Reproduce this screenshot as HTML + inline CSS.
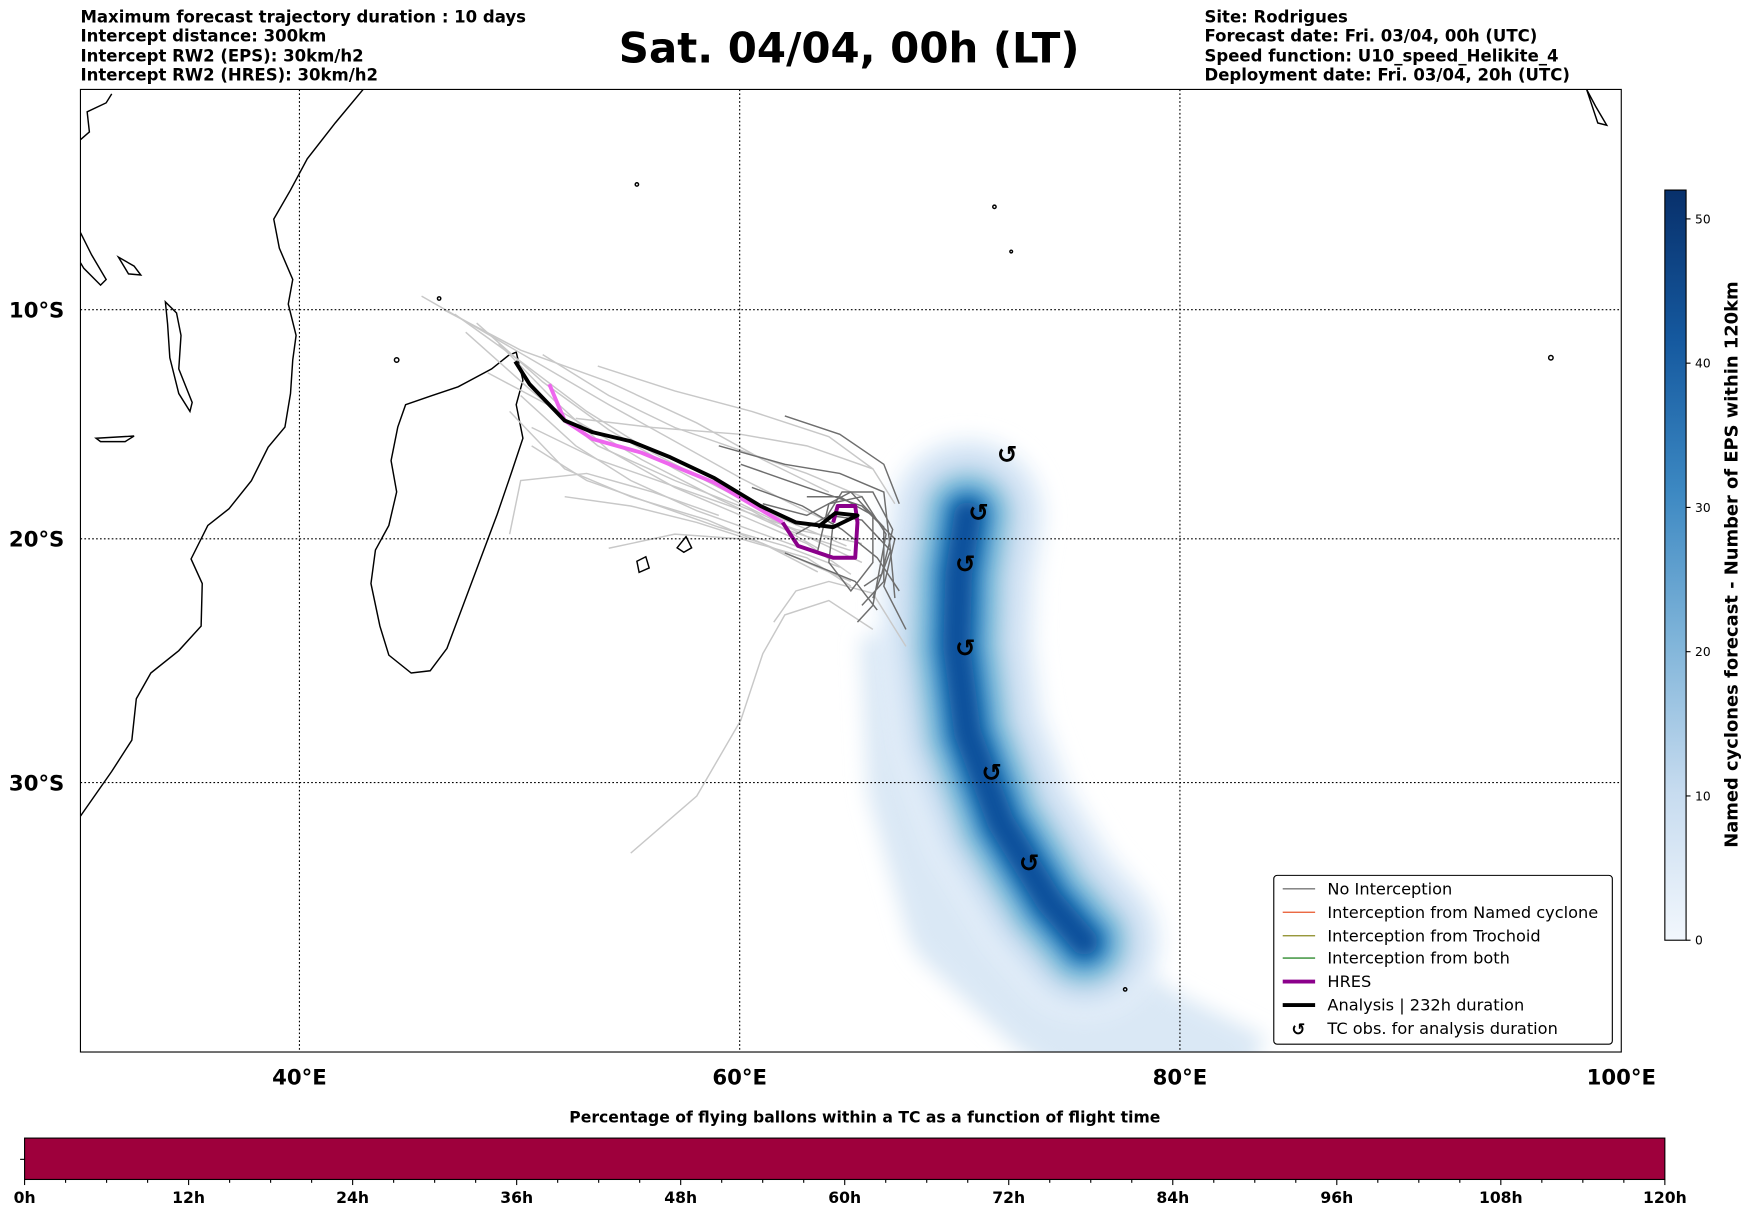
<!DOCTYPE html>
<html><head><meta charset="utf-8"><style>
html,body{margin:0;padding:0;background:#fff}
svg{display:block}
text{font-family:"DejaVu Sans","Liberation Sans",sans-serif}
</style></head><body>
<svg id="fig" width="1752" height="1213" viewBox="0 0 1568 1085" preserveAspectRatio="none" xmlns="http://www.w3.org/2000/svg">
<defs>
<filter id="blur" filterUnits="userSpaceOnUse" x="0" y="0" width="1568" height="1085"><feGaussianBlur stdDeviation="9"/></filter>
<filter id="blur2" filterUnits="userSpaceOnUse" x="0" y="0" width="1568" height="1085"><feGaussianBlur stdDeviation="6"/></filter>
<linearGradient id="blues" x1="0" y1="1" x2="0" y2="0">
<stop offset="0" stop-color="#f2f7fd"/><stop offset="0.2" stop-color="#c6dbef"/><stop offset="0.4" stop-color="#7fb4d9"/><stop offset="0.6" stop-color="#3c88c2"/><stop offset="0.8" stop-color="#15599f"/><stop offset="1" stop-color="#08306b"/>
</linearGradient>
<clipPath id="mapclip"><rect x="72" y="80" width="1379" height="861"/></clipPath>
</defs>
<g font-size="14.8" font-weight="bold">
<text x="72" y="20">Maximum forecast trajectory duration : 10 days</text>
<text x="72" y="37">Intercept distance: 300km</text>
<text x="72" y="55">Intercept RW2 (EPS):  30km/h2</text>
<text x="72" y="72">Intercept RW2 (HRES): 30km/h2</text>
</g>
<text x="760" y="56" font-size="37.5" font-weight="bold" text-anchor="middle">Sat. 04/04, 00h (LT)</text>
<g font-size="14.8" font-weight="bold">
<text x="1078" y="20">Site: Rodrigues</text>
<text x="1078" y="37">Forecast date: Fri. 03/04, 00h (UTC)</text>
<text x="1078" y="55">Speed function: U10_speed_Helikite_4</text>
<text x="1078" y="72">Deployment date: Fri. 03/04, 20h (UTC)</text>
</g>
<g id="map" clip-path="url(#mapclip)">
<g id="density"></g>
<g id="coast" fill="none" stroke="#000" stroke-width="1.3">
<path d="M72,730 L100,690 L118,662 L122,625 L135,602 L160,582 L180,560 L181,522 L171,500 L186,470 L205,455 L225,430 L240,400 L255,382 L260,352 L262,322 L265,300 L258,272 L262,250 L250,222 L245,196 L260,170 L275,142 L300,110 L325,80"/>
<path d="M72,125 L80,118 L78,100 L95,92 L100,84"/>
<path d="M72,208 L82,228 L95,250 L90,255 L75,240 L72,235"/>
<path d="M462,315 L468,340 L462,362 L468,392 L458,422 L445,460 L430,500 L415,540 L400,580 L385,600 L368,602 L348,586 L340,560 L332,522 L336,492 L348,470 L355,440 L350,412 L356,382 L363,362 L386,354 L410,346 L440,330 L455,318 Z"/>
<path d="M606,490 L614,480 L619,490 L612,494 Z"/>
<path d="M570,502 L578,498 L581,508 L572,512 Z"/>
<path d="M86,392 L120,390 L112,395 L90,395 Z"/>
<path d="M148,270 L158,280 L162,300 L160,330 L172,360 L170,368 L160,352 L152,320 L150,290 Z"/>
<path d="M106,230 L120,238 L126,246 L115,245 Z"/>
<circle cx="1388" cy="320" r="2"/><circle cx="905" cy="225" r="1.2"/><circle cx="890" cy="185" r="1.5"/><circle cx="570" cy="165" r="1.5"/><circle cx="355" cy="322" r="2"/><circle cx="393" cy="267" r="1.5"/><circle cx="1007" cy="885" r="1.5"/>
<path d="M1420,80 L1428,95 L1438,112 L1430,110 Z"/>
</g>
<g id="ens"></g>
<g id="tracks"></g>
<g id="tcobs"></g>
</g>
<g stroke="#000" stroke-width="1" stroke-dasharray="1.5,2">
<line x1="268" y1="80" x2="268" y2="941"/><line x1="662" y1="80" x2="662" y2="941"/><line x1="1056" y1="80" x2="1056" y2="941"/>
<line x1="72" y1="277" x2="1451" y2="277"/><line x1="72" y1="482" x2="1451" y2="482"/><line x1="72" y1="700" x2="1451" y2="700"/>
</g>
<rect x="72" y="80" width="1379" height="861" fill="none" stroke="#000" stroke-width="1"/>
<g font-size="19" font-weight="bold">
<text x="8" y="284">10°S</text><text x="8" y="489">20°S</text><text x="8" y="707">30°S</text>
</g>
<g font-size="19" font-weight="bold" text-anchor="middle">
<text x="268" y="970">40°E</text><text x="662" y="970">60°E</text><text x="1056" y="970">80°E</text><text x="1451" y="970">100°E</text>
</g>
<g>
<rect x="1140" y="783" width="303" height="151" rx="3" fill="#fff" stroke="#000" stroke-width="1"/>
<g font-size="14.5">
<line x1="1148" y1="795" x2="1177" y2="795" stroke="#777" stroke-width="1.2"/><text x="1188" y="800">No Interception</text>
<line x1="1148" y1="816" x2="1177" y2="816" stroke="#e8552a" stroke-width="1.2"/><text x="1188" y="821">Interception from Named cyclone</text>
<line x1="1148" y1="837" x2="1177" y2="837" stroke="#8a8a20" stroke-width="1.2"/><text x="1188" y="842">Interception from Trochoid</text>
<line x1="1148" y1="857" x2="1177" y2="857" stroke="#2e8b2e" stroke-width="1.2"/><text x="1188" y="862">Interception from both</text>
<line x1="1148" y1="878" x2="1177" y2="878" stroke="#8b008b" stroke-width="3.5"/><text x="1188" y="883">HRES</text>
<line x1="1148" y1="899" x2="1177" y2="899" stroke="#000" stroke-width="3.5"/><text x="1188" y="904">Analysis | 232h duration</text>
<text x="1162" y="926" font-size="15" font-weight="bold" text-anchor="middle">↺</text><text x="1188" y="925">TC obs. for analysis duration</text>
</g>
</g>
<g id="cbar">
<rect x="1490" y="170" width="19" height="671" fill="url(#blues)" stroke="#000" stroke-width="1"/>
</g>
<text transform="translate(1555,505) rotate(-90)" font-size="16" font-weight="bold" text-anchor="middle">Named cyclones forecast - Number of EPS within 120km</text>
<text x="774" y="1004" font-size="14" font-weight="bold" text-anchor="middle">Percentage of flying ballons within a TC as a function of flight time</text>
<rect x="22" y="1018" width="1468" height="37" fill="#9e003c" stroke="#000" stroke-width="1"/>
<line x1="18" y1="1037" x2="22" y2="1037" stroke="#000"/>
<g id="tticks"></g>
</svg>
<script>
// ---- data ----
const analysisLon = [49.75,50.4,51.2,52.0,53.25,55.0,56.8,58.8,60.9,62.5,64.2,65.3,64.3,63.5];
const analysisLat = [12.3,13.3,14.1,14.9,15.4,15.8,16.5,17.4,18.6,19.3,19.5,19.0,18.9,19.5];
const hresLon = [51.3,52.0,53.25,55.5,58.8,61.9,62.6,64.2,65.2,65.3,65.2,64.4,64.2];
const hresLat = [13.3,14.9,15.7,16.3,17.6,19.3,20.3,20.8,20.8,19.3,18.6,18.6,19.3];
const hresMagentaCount = 6;
const tcLon = [72.1,70.8,70.2,70.2,71.4,73.1];
const tcLat = [16.4,18.9,21.1,24.6,29.6,33.1];
const densLon = [70.3,69.9,69.8,70.3,71.8,74.0,75.6];
const densLat = [19.0,21.5,24.5,28.0,31.5,34.5,36.0];
const densTailLon = [68.5,68.8,70.5,74.5,78.5,82.5];
const densTailLat = [24.0,30.0,35.0,38.0,40.0,41.5];
const lightTracks = [
 [[45.5,9.4],[48,10.8],[51,12.5],[54,14.2],[57,15.8],[60,17.4],[62.5,18.6],[64.5,19.5]],
 [[47,10.2],[50,12.3],[53,14.5],[56,16.3],[59,17.8],[62,19.2],[64.8,20.3]],
 [[48,10.6],[51,13.2],[54,15.3],[57,17.0],[60,18.5],[63,19.9],[65.5,21.0]],
 [[49,11.5],[51.5,14.0],[54,16.2],[57,17.8],[60,19.0],[63,20.2],[65,21.5]],
 [[50,13.8],[52.5,16.0],[55,17.5],[58,18.8],[61,19.8],[64,20.8]],
 [[50.5,16.0],[53,17.5],[56,18.5],[59,19.5],[62,20.3],[64.5,21.2]],
 [[52,18.2],[55,18.6],[58,19.3],[61,20.2],[63.5,21.4]],
 [[52.5,14.8],[56,15.2],[60,15.5],[63,16.0],[66,17.0],[67,18.5]],
 [[53.5,12.5],[57,13.6],[60.5,14.5],[64,15.6],[66,17.0]],
 [[49.5,19.8],[50,17.5],[53,17.2],[56,18.0],[59,19.0]],
 [[55,32.7],[58,30.5],[60,27.5],[61,24.8],[62,23.2],[64,22.6],[66,23.8]],
 [[61.5,23.5],[62.5,22.2],[64,21.8],[66,22.3],[67.5,24.5]],
 [[46.5,10.0],[50,11.8],[54,13.2],[58,15.0],[61,16.6],[64,18.0]],
 [[48.5,12.8],[52,14.6],[55.5,16.6],[59,18.3],[62,19.6],[65,20.5]],
 [[47.5,11.0],[50.5,13.6],[53.5,16.0],[57,17.5],[60.5,18.8],[63.5,20.4]],
 [[49.5,14.5],[52,17.0],[55,18.2],[58.5,19.2],[62,20.6],[65,21.8]],
 [[51,12.0],[54,13.8],[57,15.2],[60,16.2],[63,17.2],[65.5,18.2]],
 [[50.5,15.2],[53.5,16.6],[56.5,17.6],[59.5,18.6],[62.5,19.6],[65.5,20.2]],
 [[54,20.4],[57,19.8],[60,20.0],[63,20.8],[65,22.0]]
];
const darkTracks = [
 [[60,16.8],[63,17.8],[65.5,18.6],[67,20.0],[66.5,22.0],[67.5,23.8]],
 [[59,16.0],[62,16.8],[64.5,17.2],[66.5,18.0],[66.8,20.5],[66,22.5]],
 [[62,14.7],[64.5,15.5],[66.5,16.8],[67.2,18.5]],
 [[63,18.2],[64.5,18.2],[66,19.0],[66,21.0],[65,22.2],[64,21.0],[64.2,19.3]],
 [[61,18.5],[63,19.0],[65,18.0],[66.5,19.5],[66.5,21.8],[65.5,22.8]],
 [[62.5,19.8],[64,19.0],[65.5,19.2],[66.8,20.5],[67,22.5]],
 [[63.5,20.5],[64,18.5],[65.5,18.2],[66.6,19.8],[66,22.8],[65.3,23.5]],
 [[63.8,19.2],[64.6,18.0],[66,18.0],[66.9,19.6],[66.4,21.5],[65.6,22.0]],
 [[62,20.6],[63.6,21.2],[65.2,21.8],[66.2,23.0]],
 [[60.5,17.8],[62.8,18.6],[64.6,19.6],[66.2,20.8],[67.2,22.2]]
];
const cbTicks = [0,10,20,30,40,50];
const cbMax = 52;
const timeLabels = ['0h','12h','24h','36h','48h','60h','72h','84h','96h','108h','120h'];
const timeMax = 120, timeMinorStep = 3;
// ---- axes ----
const NS='http://www.w3.org/2000/svg';
function xLon(lon){return 72+(lon-30)*19.7;}
function yLat(lat){const r=Math.abs(lat)*Math.PI/180;return 78.2+1133*Math.log(Math.tan(Math.PI/4+r/2));}
function mk(tag,attrs,parent){const e=document.createElementNS(NS,tag);for(const k in attrs)e.setAttribute(k,attrs[k]);parent.appendChild(e);return e;}
function pathLL(lons,lats){return lons.map((l,i)=>(i?'L':'M')+xLon(l).toFixed(1)+','+yLat(lats[i]).toFixed(1)).join(' ');}
// density
const dens=document.getElementById('density');
const tail=mk('path',{d:pathLL(densTailLon,densTailLat),fill:'none',stroke:'#dae8f5','stroke-width':120,'stroke-linejoin':'round',filter:'url(#blur)'},dens);


const layers=[[140,'#e3eef9','blur'],[108,'#c6dbef','blur'],[80,'#9ecae1','blur2'],[60,'#6baed6','blur2'],[42,'#3182bd','blur2'],[24,'#08519c','blur2']];
const dPath=pathLL(densLon,densLat);
layers.forEach(([w,c,f])=>{
 const p=mk('path',{d:dPath,fill:'none',stroke:c,'stroke-width':w,'stroke-linecap':'round','stroke-linejoin':'round',filter:'url(#'+f+')'},dens);
 
 
});
// ensemble
const ens=document.getElementById('ens');
lightTracks.forEach(t=>{
 const p=mk('path',{d:pathLL(t.map(a=>a[0]),t.map(a=>a[1])),fill:'none',stroke:'#c8c8c8','stroke-width':1.3},ens);
 
 
});
darkTracks.forEach(t=>{
 const p=mk('path',{d:pathLL(t.map(a=>a[0]),t.map(a=>a[1])),fill:'none',stroke:'#6e6e6e','stroke-width':1.3},ens);
 
 
});
// tracks
const tr=document.getElementById('tracks');
const hm=mk('path',{d:pathLL(hresLon.slice(0,hresMagentaCount),hresLat.slice(0,hresMagentaCount)),fill:'none',stroke:'#ee66ee','stroke-width':3.5,'stroke-linejoin':'round'},tr);


const hp=mk('path',{d:pathLL(hresLon.slice(hresMagentaCount-1),hresLat.slice(hresMagentaCount-1)),fill:'none',stroke:'#8b008b','stroke-width':3.5,'stroke-linejoin':'round'},tr);


const an=mk('path',{d:pathLL(analysisLon,analysisLat),fill:'none',stroke:'#000','stroke-width':3.5,'stroke-linejoin':'round'},tr);


// tc obs
const tc=document.getElementById('tcobs');
tcLon.forEach((l,i)=>{
 const t=mk('text',{x:xLon(l),y:yLat(tcLat[i])+7,'font-size':22,'font-weight':'bold','text-anchor':'middle'},tc);
 t.textContent='↺';
 
 
});
// colorbar ticks
const cb=document.getElementById('cbar');
cbTicks.forEach(v=>{
 const y=841-v/cbMax*671;
 mk('line',{x1:1509,y1:y,x2:1513,y2:y,stroke:'#000'},cb);
 const t=mk('text',{x:1517,y:y+4,'font-size':11},cb);
 t.textContent=v;
 
 
});
// time ticks
const tt=document.getElementById('tticks');
function xT(h){return 22+h/timeMax*1468;}
for(let h=0;h<=timeMax;h+=timeMinorStep){
 const major=h%12===0;
 mk('line',{x1:xT(h),y1:1055,x2:xT(h),y2:major?1060:1058,stroke:'#000'},tt);
}
timeLabels.forEach((s,i)=>{
 const t=mk('text',{x:xT(i*12),y:1076,'font-size':14,'font-weight':'bold','text-anchor':'middle'},tt);
 t.textContent=s;
 
 
});
</script>
</body></html>
